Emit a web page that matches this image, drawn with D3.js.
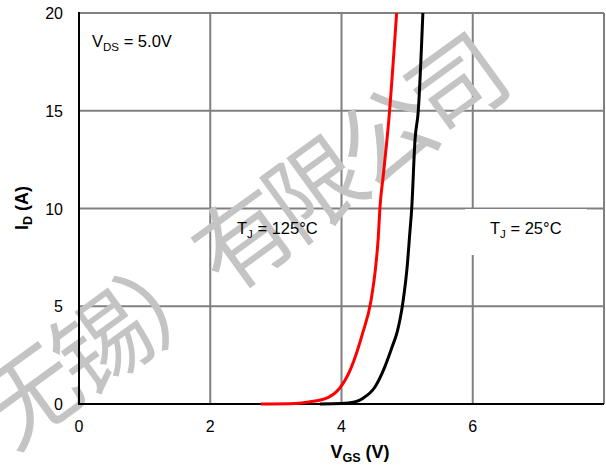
<!DOCTYPE html>
<html>
  <head>
    <meta charset="utf-8">
    <title>ID vs VGS</title>
    <script src="https://d3js.org/d3.v7.min.js"></script>
    <style>
      body { margin: 0; background: #fff; }
      svg text { font-family: "Liberation Sans", Arial, sans-serif; }
    </style>
  </head>
  <body>
    <div id="chart"></div>
    <script>
      // transfer curves
      const vgsHot = [2.77, 3.3, 3.5, 3.8, 3.97, 4.14, 4.32, 4.45, 4.52, 4.56, 4.585, 4.64, 4.72, 4.84];
      const idHot = [0, 0.03, 0.1, 0.34, 0.8, 1.8, 3.6, 5.3, 7.0, 8.5, 10, 11.8, 14.5, 20];
      const vgsCold = [3.67, 4.0, 4.2, 4.33, 4.51, 4.66, 4.78, 4.85, 4.94, 5.0, 5.04, 5.07, 5.12, 5.17, 5.24];
      const idCold = [0, 0.02, 0.1, 0.3, 0.87, 1.9, 3.0, 3.7, 5.3, 7.0, 8.7, 10, 13.5, 15, 20];
      const xTicks = [0, 2, 4, 6];
      const yTicks = [0, 5, 10, 15, 20];

      const W = 606, H = 467;
      const m = { left: 79, right: 2, top: 13, bottom: 63 };

      const svg = d3.select("#chart").append("svg")
        .attr("width", W)
        .attr("height", H);

      const x = d3.scaleLinear().domain([0, 8]).range([m.left, W - m.right]);
      const y = d3.scaleLinear().domain([0, 20]).range([H - m.bottom, m.top]);

      // grid
      const grid = svg.append("g").attr("stroke", "#808080").attr("stroke-width", 2);
      grid.selectAll(".gx")
        .data([2, 4, 6, 8])
        .enter().append("line")
          .attr("x1", d => x(d)).attr("x2", d => x(d))
          .attr("y1", y(0)).attr("y2", y(20));
      grid.selectAll(".gy")
        .data([5, 10, 15, 20])
        .enter().append("line")
          .attr("x1", x(0)).attr("x2", x(8))
          .attr("y1", d => y(d)).attr("y2", d => y(d));

      // white label box for 25C
      svg.append("rect")
        .attr("x", 465).attr("y", 209)
        .attr("width", 122).attr("height", 46)
        .attr("fill", "#fff");

      // watermark
      svg.append("text")
        .attr("transform", "translate(237,237) rotate(-36)")
        .attr("text-anchor", "middle")
        .attr("dominant-baseline", "central")
        .style("font-family", "'Noto Sans CJK SC', sans-serif")
        .style("font-size", "96px")
        .style("letter-spacing", "-8px")
        .attr("fill", "#c4c4c4")
        .text("无锡）有限公司");

      // axes (left + bottom in black)
      svg.append("line")
        .attr("x1", x(0)).attr("x2", x(0))
        .attr("y1", y(0) + 1).attr("y2", y(20) - 1)
        .attr("stroke", "#000").attr("stroke-width", 2);
      svg.append("line")
        .attr("x1", x(0) - 1).attr("x2", x(8))
        .attr("y1", y(0)).attr("y2", y(0))
        .attr("stroke", "#000").attr("stroke-width", 2);

      // tick labels
      svg.selectAll(".yt")
        .data(yTicks)
        .enter().append("text")
          .attr("x", 63)
          .attr("y", d => y(d) + 6)
          .attr("text-anchor", "end")
          .style("font-size", "16px")
          .text(d => d);
      svg.selectAll(".xt")
        .data(xTicks)
        .enter().append("text")
          .attr("x", d => x(d))
          .attr("y", 432)
          .attr("text-anchor", "middle")
          .style("font-size", "16px")
          .text(d => d);

      // curves
      const line = d3.line()
        .x(d => x(d[0]))
        .y(d => y(d[1]))
        .curve(d3.curveMonotoneX);
      svg.append("path")
        .datum(vgsHot.map((v, i) => [v, idHot[i]]))
        .attr("d", line)
        .attr("fill", "none")
        .attr("stroke", "#ff0000")
        .attr("stroke-width", 3);
      svg.append("path")
        .datum(vgsCold.map((v, i) => [v, idCold[i]]))
        .attr("d", line)
        .attr("fill", "none")
        .attr("stroke", "#000")
        .attr("stroke-width", 3);

      // annotations
      function subText(xp, yp, main, sub, rest, size, weight, anchor) {
        const t = svg.append("text")
          .attr("x", xp).attr("y", yp)
          .attr("text-anchor", anchor || "start")
          .style("font-size", size + "px")
          .style("font-weight", weight || "normal");
        t.append("tspan").text(main);
        t.append("tspan").attr("dy", 4).style("font-size", (size * 0.7) + "px").text(sub);
        t.append("tspan").attr("dy", -4).text(rest);
        return t;
      }
      subText(92, 47, "V", "DS", " = 5.0V", 16.5);
      subText(237, 234, "T", "J", " = 125°C", 16.5);
      subText(490, 234, "T", "J", " = 25°C", 16.5);

      // axis titles
      subText(360, 458, "V", "GS", " (V)", 18, "bold", "middle");
      subText(0, 0, "I", "D", " (A)", 18, "bold", "middle")
        .attr("transform", "translate(28,208) rotate(-90)");
    </script>
  </body>
</html>
